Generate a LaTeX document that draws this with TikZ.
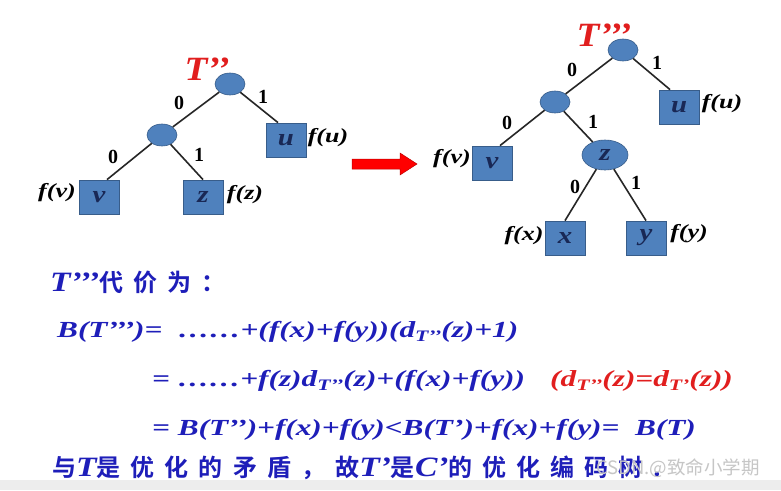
\documentclass[tikz,border=0pt]{standalone}
\usepackage{fontspec}
\usepackage{graphicx}
\usetikzlibrary{shapes.geometric,calc}
\setmainfont{Liberation Serif}
\newfontfamily\tnr{Liberation Serif}
\newfontfamily\cjk{Noto Sans CJK SC}[BoldFont={Noto Sans CJK SC Bold},LetterSpace=42]
\newfontfamily\wmfont{Noto Sans CJK SC}
\definecolor{boxblue}{RGB}{79,129,189}
\definecolor{boxedge}{RGB}{56,93,138}
\definecolor{txtblue}{RGB}{30,30,185}
\definecolor{lbl}{RGB}{25,40,85}
\definecolor{myred}{RGB}{225,30,30}
\newcommand\hs[2][1.3]{\scalebox{#1}[1]{#2}}
\newcommand\sbT[1]{\raisebox{-0.45ex}{\fontsize{16}{16}\selectfont T#1}}
\newcommand\lt[1]{{\tnr\bfseries\itshape\fontsize{28}{28}\selectfont\hs[1.2]{#1}}}
\begin{document}
\begin{tikzpicture}[x=1pt,y=-1pt,
  leaf/.style={rectangle,fill=boxblue,draw=boxedge,line width=0.8pt,minimum width=40pt,minimum height=34pt,inner sep=0pt,font=\tnr\bfseries\itshape\fontsize{24}{24}\selectfont,text=lbl},
  inner/.style={ellipse,fill=boxblue,draw=boxedge,line width=0.6pt,minimum width=30pt,minimum height=22pt,inner sep=0pt,font=\tnr\bfseries\itshape\fontsize{24}{24}\selectfont,text=lbl},
  edgelbl/.style={font=\tnr\bfseries\fontsize{20}{20}\selectfont,inner sep=0pt},
  flbl/.style={font=\tnr\bfseries\itshape\fontsize{20}{20}\selectfont,inner sep=0pt},
  ttl/.style={font=\tnr\bfseries\itshape\fontsize{34}{34}\selectfont,text=myred,inner sep=0pt},
  edge/.style={line width=1.6pt,black!85},
  eq/.style={font=\tnr\bfseries\itshape\fontsize{23}{23}\selectfont,text=txtblue,inner sep=0pt,anchor=base west},
  cn/.style={font=\bfseries\fontsize{24}{24}\selectfont,text=txtblue,inner sep=0pt,anchor=base west}
]
\useasboundingbox (0,0) rectangle (781,490);
\fill[white] (0,0) rectangle (781,490);
% faint background photo band
\fill[gray!14] (0,480) rectangle (781,490);

% ---------- left tree T''
\node[inner] (r1) at (230,84) {};
\node[inner] (a1) at (162,135) {};
\node[leaf] (u1) at (286,140) {\hs[1.2]{u}};
\node[leaf] (v1) at (99,197) {\hs[1.2]{v}};
\node[leaf] (z1) at (203,197) {\hs[1.2]{z}};
\node[ttl] (t1) at (207,69) {\hs[1.1]{T’’}};
\draw[edge] (r1) -- (a1);
\draw[edge] (r1) -- ($(u1.north)+(-8,0)$);
\draw[edge] (a1) -- ($(v1.north)+(8,0)$);
\draw[edge] (a1) -- (z1.north);
\node[edgelbl] (e1a) at (179,103) {0};
\node[edgelbl] (e1b) at (263,97) {1};
\node[edgelbl] (e1c) at (113,157) {0};
\node[edgelbl] (e1d) at (199,155) {1};
\node[flbl] (fu1) at (328,138) {\hs{f(u)}};
\node[flbl] (fv1) at (57,193) {\hs{f(v)}};
\node[flbl] (fz1) at (245,195) {\hs{f(z)}};

% ---------- arrow
\coordinate (arr) at (385,164);
\draw[fill=red,draw=red!75!black,line width=0.5pt]
  (352,159) -- (400,159) -- (400,153) -- (417,164) -- (400,175) -- (400,169) -- (352,169) -- cycle;

% ---------- right tree T'''
\node[inner] (r2) at (623,50) {};
\node[inner] (a2) at (555,102) {};
\node[leaf] (u2) at (679,107) {\hs[1.2]{u}};
\node[leaf] (v2) at (492,163) {\hs[1.2]{v}};
\node[inner,minimum width=46pt,minimum height=30pt] (z2) at (605,155) {\hs[1.2]{z}};
\node[leaf] (x2) at (565,238) {\hs[1.2]{x}};
\node[leaf] (y2) at (646,238) {\hs[1.2]{y}};
\node[ttl] (t2) at (604,35) {\hs[1.1]{T’’’}};
\draw[edge] (r2) -- (a2);
\draw[edge] (r2) -- ($(u2.north)+(-9,0)$);
\draw[edge] (a2) -- ($(v2.north)+(8,0)$);
\draw[edge] (a2) -- (z2);
\draw[edge] (z2) -- (x2.north);
\draw[edge] (z2) -- (y2.north);
\node[edgelbl] (e2a) at (572,70) {0};
\node[edgelbl] (e2b) at (657,63) {1};
\node[edgelbl] (e2c) at (507,123) {0};
\node[edgelbl] (e2d) at (593,122) {1};
\node[edgelbl] (e2e) at (575,187) {0};
\node[edgelbl] (e2f) at (636,183) {1};
\node[flbl] (fu2) at (722,104) {\hs{f(u)}};
\node[flbl] (fv2) at (452,159) {\hs{f(v)}};
\node[flbl] (fx2) at (524,236) {\hs{f(x)}};
\node[flbl] (fy2) at (689,234) {\hs{f(y)}};

% ---------- text
\node[cn] (l1) at (50,291) {\lt{T’’’}{\cjk\bfseries 代价为：}};
\node[eq] (l2) at (57,337) {\hs[1.36]{B(T’’’)=\ \ ……+(f(x)+f(y))(d\sbT{’’}(z)+1)}};
\node[eq] (l3) at (152,386) {\hs[1.36]{=\ ……+f(z)d\sbT{’’}(z)+(f(x)+f(y))}};
\node[eq,text=myred] (l3r) at (550,386) {\hs[1.36]{(d\sbT{’’}(z)=d\sbT{’}(z))}};
\node[eq] (l4) at (152,435) {\hs[1.36]{=\ B(T’’)+f(x)+f(y)<B(T’)+f(x)+f(y)=\ \ B(T)}};
\node[cn] (l5) at (52,476) {{\cjk\bfseries 与}\lt{T}{\cjk\bfseries 是优化的矛盾，故}\lt{T’}{\cjk\bfseries 是}\lt{C’}{\cjk\bfseries 的优化编码树.}};
\node[font=\wmfont\fontsize{18.5}{18.5}\selectfont,text=gray!45,anchor=base west,inner sep=0pt] (wm) at (596,474) {CSDN.@致命小学期};
\end{tikzpicture}
\end{document}
